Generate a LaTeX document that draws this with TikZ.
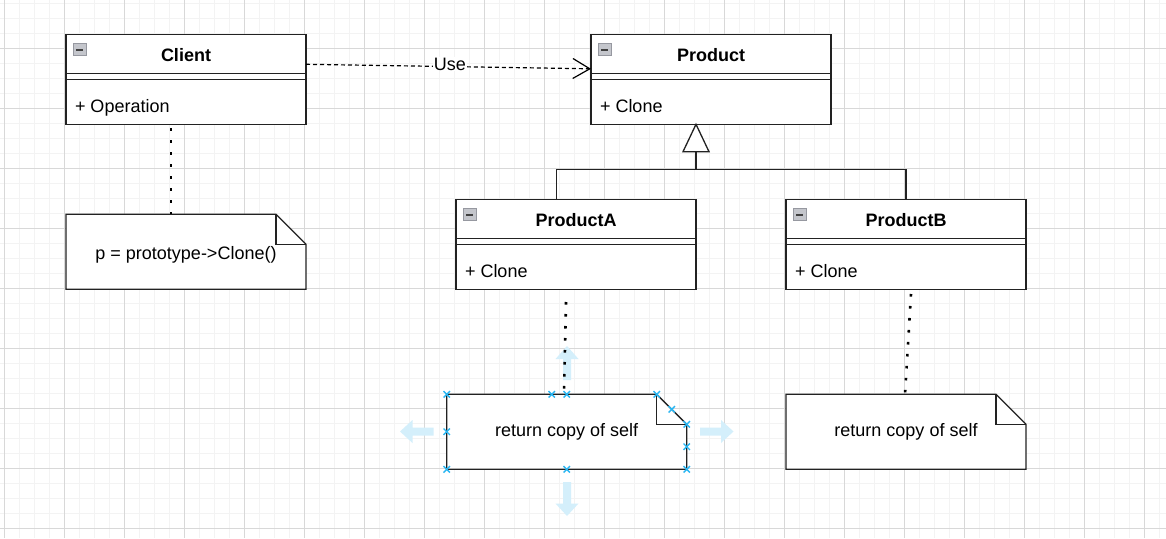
\documentclass[tikz,border=0pt]{standalone}
\usepackage{fontspec}
\setmainfont{Liberation Sans}
\usetikzlibrary{arrows.meta}
\definecolor{ln}{RGB}{34,34,34}
\definecolor{gmaj}{RGB}{216,216,216}
\definecolor{gmin}{RGB}{243,243,243}
\definecolor{sel}{RGB}{41,182,242}
\definecolor{selfill}{RGB}{212,239,251}
\definecolor{iconfill}{RGB}{196,198,204}
\definecolor{iconedge}{RGB}{150,152,160}

\newcommand\umlclass[5]{%
  \node[classbox] (#1) at (#2,#3) {};
  \draw[edge] ([yshift=-39pt]#1.north west) -- ([yshift=-39pt]#1.north east);
  \draw[edge] ([yshift=-45pt]#1.north west) -- ([yshift=-45pt]#1.north east);
  \draw[draw=iconedge,fill=iconfill,line width=0.8pt] (#2+7,#3+9) rectangle (#2+20,#3+21.5);
  \draw[draw=black!75,line width=2pt] (#2+10,#3+15.2) -- (#2+17,#3+15.2);
  \node[anchor=base,font=\fontsize{18}{21}\selectfont\bfseries] (#1-title) at (#2+120,#3+27) {#4};
  \node[anchor=base west] (#1-member) at (#2+9,#3+78.4) {#5};
}
\newcommand\umlnote[5]{%
  \node[minimum width=240pt,minimum height=75pt,anchor=north west] (#1) at (#2,#3) {};
  \draw[edge,fill=white] (#2,#3) -- (#2+210,#3) -- (#2+240,#3+30) -- (#2+240,#3+75) -- (#2,#3+75) -- cycle;
  \draw[edge] (#2+210,#3) -- (#2+210,#3+30) -- (#2+240,#3+30);
  \node[anchor=base] (#1-text) at (#2+120,#3+#5) {#4};
}
\newcommand\selx[2]{%
  \draw[sel,line width=1.4pt] (#1-3.2,#2-3.2) -- (#1+3.2,#2+3.2) (#1-3.2,#2+3.2) -- (#1+3.2,#2-3.2);
}

\begin{document}
\begin{tikzpicture}[x=1pt,y=-1pt,
  every node/.style={font=\fontsize{18}{21}\selectfont, text=black, inner sep=0pt, outer sep=0pt},
  edge/.style={draw=ln, line width=1.3pt, line join=miter},
  classbox/.style={edge, fill=white, minimum width=240pt, minimum height=90pt, anchor=north west},
  dotline/.style={draw=black, line width=2.6pt, dash pattern=on 2.6pt off 9.4pt},
  usearrow/.style={draw=black, line width=1.2pt, dash pattern=on 4pt off 3pt, -{Straight Barb[length=17pt,width=20pt,line width=1.2pt]}},
  selarrow/.style={fill=selfill, draw=none}
]
\useasboundingbox (0,0) rectangle (1166,538);
\fill[white] (0,0) rectangle (1166,538);
% grid
\foreach \i in {0,...,77} {\draw[gmin,line width=1pt] ({4.5+15*\i},0) -- ({4.5+15*\i},538);}
\foreach \i in {0,...,35} {\draw[gmin,line width=1pt] (0,{3.3+15*\i}) -- (1166,{3.3+15*\i});}
\foreach \i in {0,...,19} {\draw[gmaj,line width=1pt] ({4.5+60*\i},0) -- ({4.5+60*\i},538);}
\foreach \i in {0,...,8} {\draw[gmaj,line width=1pt] (0,{48.3+60*\i}) -- (1166,{48.3+60*\i});}

% classes
\umlclass{client}{66}{34.3}{Client}{+ Operation}
\umlclass{product}{591}{34.3}{Product}{+ Clone}
\umlclass{pa}{456}{199.3}{ProductA}{+ Clone}
\umlclass{pb}{786}{199.3}{ProductB}{+ Clone}

% notes
\umlnote{cnote}{66}{214.3}{p = prototype->Clone()}{45.3}
\umlnote{anote}{446.7}{394.3}{return copy of self}{42.4}
\umlnote{bnote}{786}{394.3}{return copy of self}{42.4}

% Use dependency
\draw[usearrow] ([yshift=-30pt]client.north east) -- ([yshift=-34.5pt]product.north west)
  node[pos=0.505, fill=white, inner sep=1pt, yshift=2.5pt] (uselabel) {Use};

% inheritance
\coordinate (apex) at (696,124.3);
\coordinate (tribase) at (696,151.7);
\coordinate (junc) at (696,169.3);
\draw[edge] ([xshift=-19.5pt]pa.north) |- (junc) -| (pb.north);
\draw[edge] (junc) -- (tribase);
\draw[edge,fill=white] (apex) -- (683,151.7) -- (709,151.7) -- cycle;

% note links
\coordinate (c1) at (171,128);
\coordinate (c2) at (171,214.3);
\draw[dotline] (c1) -- (c2);
\coordinate (b1) at (911,294);
\coordinate (b2) at (905,394.3);
\draw[dotline] (b1) -- (b2);

% selection handles on note A
\fill[selarrow] (400,431.5) -- (412.5,420) -- (412.5,427.5) -- (433.5,427.5) -- (433.5,435.5) -- (412.5,435.5) -- (412.5,443) -- cycle;
\fill[selarrow] (733.5,431.5) -- (721,420) -- (721,427.5) -- (700,427.5) -- (700,435.5) -- (721,435.5) -- (721,443) -- cycle;
\fill[selarrow] (567,516) -- (555.5,503.5) -- (563,503.5) -- (563,482) -- (571,482) -- (571,503.5) -- (578.5,503.5) -- cycle;
\fill[selarrow] (567,346) -- (555.5,359) -- (563,359) -- (563,380) -- (571,380) -- (571,359) -- (578.5,359) -- cycle;
\coordinate (a1) at (566,302);
\coordinate (a2) at (564,394.3);
\draw[dotline] (a1) -- (a2);
\selx{446.7}{394.3}
\selx{551.7}{394.3}
\selx{566.7}{394.3}
\selx{656.7}{394.3}
\selx{671.7}{409.3}
\selx{686.7}{424.3}
\selx{446.7}{431.7}
\selx{686.7}{446.7}
\selx{446.7}{469.3}
\selx{566.7}{469.3}
\selx{686.7}{469.3}
\end{tikzpicture}
\end{document}
